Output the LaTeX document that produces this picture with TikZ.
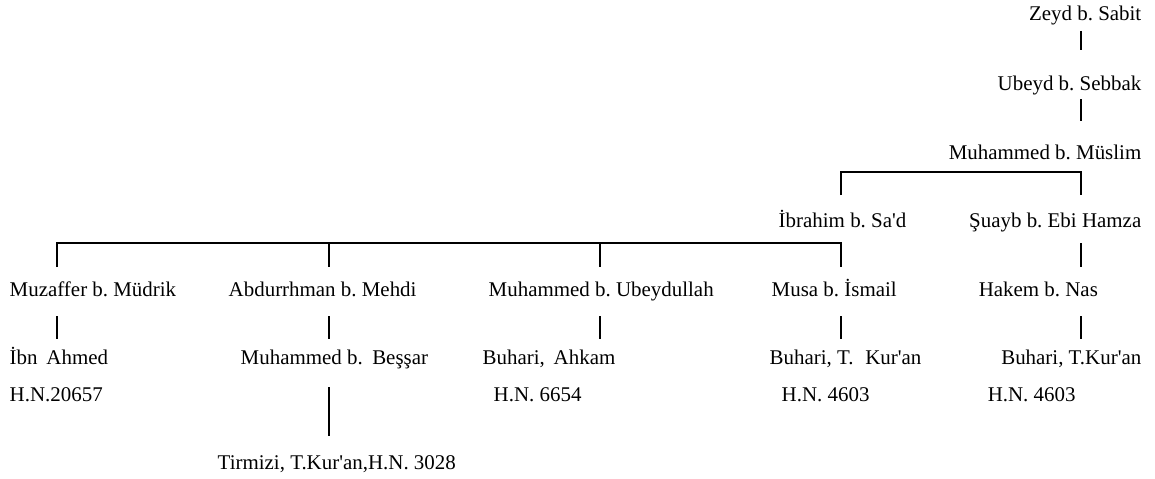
\documentclass[tikz,border=0pt]{standalone}
\usepackage{fontspec}
\setmainfont{Liberation Serif}
\usetikzlibrary{calc}
\frenchspacing
\newcommand{\qs}{\textquotesingle}
\tikzset{
  ravi/.style={inner sep=0pt, anchor=base west, font=\fontsize{15.7}{19}\selectfont},
  ravir/.style={ravi, anchor=base east}
}
\begin{document}
\begin{tikzpicture}[x=0.75pt, y=-0.75pt, line width=1.1pt]
        \useasboundingbox (0,0) rectangle (1155,478);
        % columns of the chain
        \coordinate (cA) at (57,0);
        \coordinate (cB) at (329,0);
        \coordinate (cC) at (600,0);
        \coordinate (cD) at (841,0);
        \coordinate (cE) at (1081,0);

        \node[ravir] (zeyd) at (1142,21) {Zeyd b. Sabit};
        \node[ravir] (ubeyd) at (1142,90) {Ubeyd b. Sebbak};
        \node[ravir] (muslim) at (1142,159) {Muhammed b. Müslim};
        \node[ravi] (ibrahim) at (778,227) {İbrahim b. Sa\qs d};
        \node[ravir] (suayb) at (1142,227) {Şuayb b. Ebi Hamza};

        \node[ravi] (muzaffer) at (9,296) {Muzaffer b. Müdrik};
        \node[ravi] (abdurrahman) at (228,296) {Abdurrhman b. Mehdi};
        \node[ravi] (ubeydullah) at (488,296) {Muhammed b. Ubeydullah};
        \node[ravi] (musa) at (771,296) {Musa b. İsmail};
        \node[ravi] (hakem) at (978,296) {Hakem b. Nas};

        \node[ravi] (ibnahmed) at (9,364) {İbn\hspace{0.42em}Ahmed};
        \node[ravi] (bessar) at (240,364) {Muhammed b.\hspace{0.45em}Beşşar};
        \node[ravi] (ahkam) at (482,364) {Buhari,\hspace{0.42em}Ahkam};
        \node[ravi] (kuran1) at (769,364) {Buhari, T.\hspace{0.56em}Kur\qs an};
        \node[ravir] (kuran2) at (1142,364) {Buhari, T.Kur\qs an};

        \node[ravi] (hn1) at (9,401) {H.N.20657};
        \node[ravi] (hn2) at (493,401) {H.N. 6654};
        \node[ravi] (hn3) at (781,401) {H.N. 4603};
        \node[ravi] (hn4) at (987,401) {H.N. 4603};

        \node[ravi] (tirmizi) at (217,469) {Tirmizi, T.Kur\qs an,H.N. 3028};

        % upper chain
        \draw ($(zeyd.base -| cE)+(0,10)$) -- ($(ubeyd.base -| cE)+(0,-40)$);
        \draw ($(ubeyd.base -| cE)+(0,9)$) -- ($(muslim.base -| cE)+(0,-38)$);
        \draw ($(ibrahim.base -| cD)+(0,-32)$) |- ($(muslim.base -| cE)+(0,13)$) -- ($(suayb.base -| cE)+(0,-32)$);

        % branches
        \draw ($(muzaffer.base -| cA)+(0,-29)$) |- ($(ibrahim.base -| cD)+(0,16)$) -- ($(musa.base -| cD)+(0,-29)$);
        \draw ($(ibrahim.base -| cB)+(0,16)$) -- ($(abdurrahman.base -| cB)+(0,-29)$);
        \draw ($(ibrahim.base -| cC)+(0,16)$) -- ($(ubeydullah.base -| cC)+(0,-29)$);
        \draw ($(suayb.base -| cE)+(0,16)$) -- ($(hakem.base -| cE)+(0,-29)$);

        % down to the sources
        \foreach \a/\b/\c in {muzaffer/ibnahmed/cA, abdurrahman/bessar/cB, ubeydullah/ahkam/cC, musa/kuran1/cD, hakem/kuran2/cE}
            \draw ($(\a.base -| \c)+(0,20)$) -- ($(\b.base -| \c)+(0,-25)$);
        \draw ($(bessar.base -| cB)+(0,23)$) -- ($(tirmizi.base -| cB)+(0,-33)$);
    \end{tikzpicture}
\end{document}
